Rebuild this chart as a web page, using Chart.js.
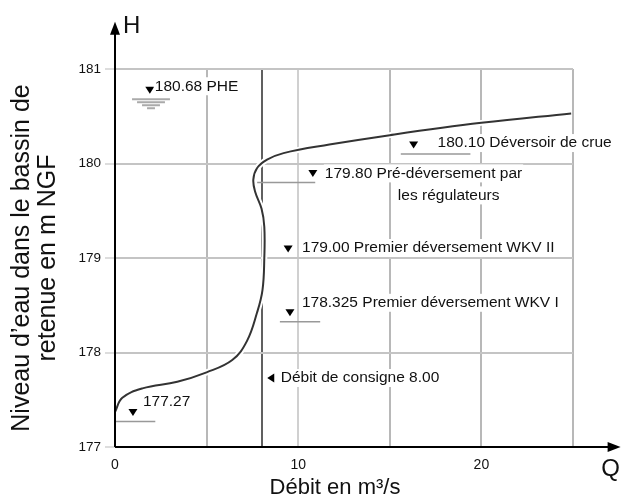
<!DOCTYPE html>
<html lang="fr">
<head>
<meta charset="utf-8">
<script src="https://cdn.jsdelivr.net/npm/chart.js@4.4.1/dist/chart.umd.min.js"></script>
<style>
  html, body { margin: 0; padding: 0; background: #fff; }
  #wrap { width: 624px; height: 500px; }
</style>
</head>
<body>
<div id="wrap"><canvas id="chart" width="624" height="500"></canvas></div>
<script>
// Courbe débit (m3/s) -> niveau dans le bassin (m NGF)
const debits = [0, 0.4, 1.5, 3.4, 5.0, 6.4, 7.2, 7.75, 8.05, 8.15, 8.15, 8.0, 7.65, 7.55, 7.75, 8.3, 9.2, 11.7, 15.0, 20.0, 24.9];
const niveaux = [177.37, 177.52, 177.62, 177.69, 177.79, 177.92, 178.12, 178.42, 178.66, 179.0, 179.33, 179.52, 179.7, 179.83, 179.95, 180.04, 180.11, 180.2, 180.3, 180.43, 180.53];

const xTicks = [0, 5, 8, 10, 15, 20, 25];
const xLabels = [0, 10, 20];
const yTicks = [177, 178, 179, 180, 181];

// bout des axes (flèches)
const qFinAxe = 27.6;
const hFinAxe = 181.5;

// cotes remarquables
const coteValeurs = [180.68, 180.10, 179.80, 179.00, 178.325, 177.27];
const coteTextes = [
  ['180.68 PHE'],
  ['180.10 Déversoir de crue'],
  ['179.80 Pré-déversement par', 'les régulateurs'],
  ['179.00 Premier déversement WKV II'],
  ['178.325 Premier déversement WKV I'],
  ['177.27']
];
const coteRepereQ = [1.9, 16.3, 10.8, 9.45, 9.55, 0.98];
const coteTraitDe = [0.93, 15.6, 7.76, null, 9.0, 0];
const coteTraitA = [3.0, 19.4, 10.93, null, 11.2, 2.2];

const consigneQ = 8.5;
const consigneH = 177.73;
const consigneTexte = 'Débit de consigne 8.00';

const FONT = '"Liberation Sans", Arial, sans-serif';
Chart.defaults.font.family = FONT;
Chart.defaults.font.size = 13;
Chart.defaults.color = '#111';

// décalages des libellés par rapport au repère (px)
const libDx = [5, 24, 12, 14, 12, 10];
const libDy = [-4, -2, 0, -1, -10, -11];
const libDx2 = 85, libDy2 = 22;

function triangleBas(ctx, x, y) {
  ctx.fillStyle = '#000';
  ctx.beginPath();
  ctx.moveTo(x - 4.5, y - 3.5);
  ctx.lineTo(x + 4.5, y - 3.5);
  ctx.lineTo(x, y + 3.5);
  ctx.closePath();
  ctx.fill();
}

function texteFond(ctx, txt, x, y) {
  const w = ctx.measureText(txt).width;
  ctx.fillStyle = '#fff';
  ctx.fillRect(x - 1, y - 9, w + 2, 18);
  ctx.fillStyle = '#111';
  ctx.fillText(txt, x, y);
}

const schema = {
  id: 'schema',
  beforeDatasetsDraw(chart) {
    const { ctx, scales: { x, y } } = chart;
    ctx.save();
    ctx.font = '15.5px ' + FONT;
    ctx.textBaseline = 'middle';
    ctx.textAlign = 'left';

    coteValeurs.forEach((h, i) => {
      const py = y.getPixelForValue(h);
      const px = x.getPixelForValue(coteRepereQ[i]);
      if (i === 0) {
        // symbole de niveau (PHE)
        const x0 = x.getPixelForValue(coteTraitDe[i]);
        const x1 = x.getPixelForValue(coteTraitA[i]);
        ctx.strokeStyle = '#aaa';
        ctx.lineWidth = 2;
        for (let k = 0; k < 4; k++) {
          const r = (x1 - x0) / 2 - k * 5;
          const c = (x0 + x1) / 2;
          ctx.beginPath();
          ctx.moveTo(c - r, py + k * 3);
          ctx.lineTo(c + r, py + k * 3);
          ctx.stroke();
        }
      } else if (coteTraitDe[i] !== null) {
        ctx.strokeStyle = '#999';
        ctx.lineWidth = 1.5;
        ctx.beginPath();
        ctx.moveTo(x.getPixelForValue(coteTraitDe[i]), py);
        ctx.lineTo(x.getPixelForValue(coteTraitA[i]), py);
        ctx.stroke();
      }
      const ty = py - 9;
      triangleBas(ctx, px, ty);
      const lignes = coteTextes[i];
      texteFond(ctx, lignes[0], px + libDx[i], ty + libDy[i]);
      if (lignes[1]) texteFond(ctx, lignes[1], px + libDx2, ty + libDy2);
    });

    // débit de consigne
    const cx = x.getPixelForValue(consigneQ);
    const cy = y.getPixelForValue(consigneH);
    ctx.fillStyle = '#000';
    ctx.beginPath();
    ctx.moveTo(cx + 3.5, cy - 4.5);
    ctx.lineTo(cx + 3.5, cy + 4.5);
    ctx.lineTo(cx - 3.5, cy);
    ctx.closePath();
    ctx.fill();
    texteFond(ctx, consigneTexte, cx + 10, cy);
    ctx.restore();
  },
  afterDraw(chart) {
    const { ctx, scales: { x, y } } = chart;
    const x0 = x.getPixelForValue(0);
    const y0 = y.getPixelForValue(177);
    const xe = x.getPixelForValue(qFinAxe);
    const ye = y.getPixelForValue(hFinAxe);
    ctx.save();
    ctx.strokeStyle = '#000';
    ctx.fillStyle = '#000';
    ctx.lineWidth = 2;
    ctx.beginPath();
    ctx.moveTo(x0, y0);
    ctx.lineTo(x0, ye + 10);
    ctx.moveTo(x0, y0);
    ctx.lineTo(xe - 10, y0);
    ctx.stroke();
    ctx.beginPath();
    ctx.moveTo(x0, ye);
    ctx.lineTo(x0 - 5, ye + 13);
    ctx.lineTo(x0 + 5, ye + 13);
    ctx.closePath();
    ctx.fill();
    ctx.beginPath();
    ctx.moveTo(xe, y0);
    ctx.lineTo(xe - 13, y0 - 5);
    ctx.lineTo(xe - 13, y0 + 5);
    ctx.closePath();
    ctx.fill();

    ctx.fillStyle = '#111';
    ctx.textBaseline = 'middle';
    ctx.font = '24px ' + FONT;
    ctx.textAlign = 'left';
    ctx.fillText('H', x0 + 8, ye + 5);
    ctx.textAlign = 'center';
    ctx.fillText('Q', xe - 10, y0 + 22);
    ctx.font = '22px ' + FONT;
    ctx.fillText('Débit en m³/s', 335, 488);
    ctx.restore();
  }
};

const grisVertical = v => v === 0 ? 'rgba(0,0,0,0)' : v === 8 ? '#606060' : v === 10 ? '#d0d0d0' : '#b8b8b8';

new Chart(document.getElementById('chart'), {
  type: 'scatter',
  data: {
    datasets: [
      {
        label: 'Courbe',
        data: debits.map((q, i) => ({ x: q, y: niveaux[i] })),
        showLine: true,
        borderColor: '#333',
        borderWidth: 2,
        pointRadius: 0,
        tension: 0.4,
        order: 1
      },
      {
        label: 'halo',
        data: debits.map((q, i) => ({ x: q, y: niveaux[i] })),
        showLine: true,
        borderColor: '#fff',
        borderWidth: 6,
        pointRadius: 0,
        tension: 0.4,
        order: 2
      }
    ]
  },
  options: {
    responsive: false,
    animation: false,
    layout: { padding: { left: 0, top: 69, right: 51, bottom: 0 } },
    plugins: {
      legend: { display: false },
      tooltip: { enabled: false }
    },
    scales: {
      x: {
        type: 'linear',
        min: 0,
        max: 25,
        afterBuildTicks: s => { s.ticks = xTicks.map(v => ({ value: v })); },
        afterFit: s => { s.height = 53; },
        border: { display: false },
        grid: {
          color: c => grisVertical(c.tick.value),
          lineWidth: 2,
          drawTicks: false
        },
        ticks: {
          padding: 10,
          maxRotation: 0,
          autoSkip: false,
          font: { size: 14 },
          callback: v => xLabels.includes(v) ? String(v) : ''
        }
      },
      y: {
        type: 'linear',
        min: 177,
        max: 181,
        afterBuildTicks: s => { s.ticks = yTicks.map(v => ({ value: v })); },
        afterFit: s => { s.width = 115; },
        border: { display: false },
        grid: {
          color: c => c.tick.value === 177 ? 'rgba(0,0,0,0)' : '#c4c4c4',
          lineWidth: 2,
          tickLength: 10,
          tickColor: '#ddd'
        },
        ticks: {
          padding: 4,
          font: { size: 13.5 },
          callback: v => String(v)
        },
        title: {
          display: true,
          text: ['Niveau d\u2019eau dans le bassin de', 'retenue en m NGF'],
          font: { size: 25, lineHeight: 1.04 },
          color: '#111',
          padding: { top: 9, bottom: 0 }
        }
      }
    }
  },
  plugins: [schema]
});
</script>
</body>
</html>
